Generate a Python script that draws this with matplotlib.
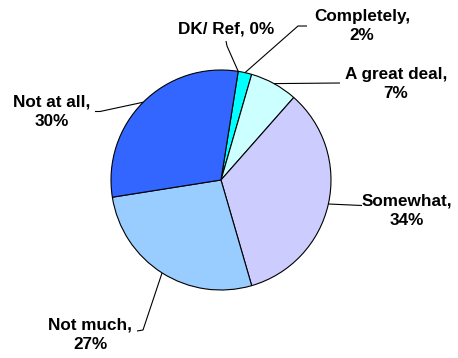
import numpy as np
import matplotlib
matplotlib.use("Agg")
import matplotlib.pyplot as plt

# Survey responses (percent), clockwise from the top of the pie
categories = ["DK/ Ref", "Completely", "A great deal", "Somewhat", "Not much", "Not at all"]
shares = [0, 2, 7, 34, 27, 30]
colors = ["#00FFFF", "#00FFFF", "#CCFFFF", "#CCCCFF", "#99CCFF", "#3366FF"]

W, H = 458, 358
fig = plt.figure(figsize=(W / 100, H / 100), dpi=100)
ax = fig.add_axes([0, 0, 1, 1])

cx, cy, r = 221, H - 180, 110
start = 81

wedges, _ = ax.pie(shares, colors=colors, startangle=start, counterclock=False,
                   center=(cx, cy), radius=r, frame=True,
                   wedgeprops=dict(edgecolor="black", linewidth=0.8))
ax.set_xlim(0, W)
ax.set_ylim(0, H)
ax.set_aspect("equal")
ax.axis("off")

# label placement (pixel coords, y measured from top) and leader-line bends
label_pos = [(226, 29), (362, 26), (396, 84), (407, 211), (90, 335), (52, 112)]
bends = [
    [(227, 46), (226, 41)],
    [(298, 26), (307, 26)],
    [(340, 83)],
    [(362, 205.5)],
    [(143, 330), (137, 331)],
    [(100, 111.5), (95, 111.5)],
]

total = sum(shares)
cum = np.cumsum([0] + shares)
for i, (cat, val) in enumerate(zip(categories, shares)):
    mid = start - 360 * (cum[i] + cum[i + 1]) / 2 / total
    ex = cx + r * np.cos(np.radians(mid))
    ey = cy + r * np.sin(np.radians(mid))
    xs = [ex] + [p[0] for p in bends[i]]
    ys = [ey] + [H - p[1] for p in bends[i]]
    ax.plot(xs, ys, color="black", linewidth=0.8, solid_capstyle="butt")
    txt = f"{cat}, {val}%" if cat == "DK/ Ref" else f"{cat},\n{val}%"
    lx, ly = label_pos[i]
    ax.text(lx, H - ly, txt, ha="center", va="center", multialignment="center",
            fontsize=12.3, fontweight="bold", family="Liberation Sans",
            linespacing=1.35, color="black")

fig.savefig("out.png", dpi=100)
